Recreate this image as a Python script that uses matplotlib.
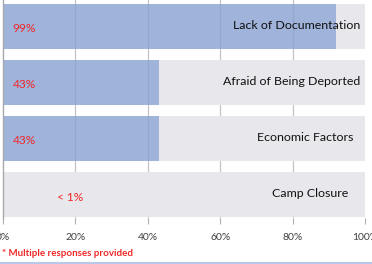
import matplotlib
matplotlib.use("Agg")
import matplotlib.pyplot as plt
from matplotlib.lines import Line2D

categories = ["Lack of Documentation", "Afraid of Being Deported", "Economic Factors", "Camp Closure"]
values = [92, 43, 43, 0.4]
value_labels = ["99%", "43%", "43%", "< 1%"]
xticks = [0, 20, 40, 60, 80, 100]
xtick_labels = ["0%", "20%", "40%", "60%", "80%", "100%"]
footnote = "* Multiple responses provided"

plt.rcParams['font.family'] = ['Lato', 'DejaVu Sans']

W, H = 372, 264
fig = plt.figure(figsize=(W / 100, H / 100), dpi=100)
ax = fig.add_axes([3 / W, 1 - 218 / H, 362 / W, 218 / H])

blue = "#87a0d2"
bg = "#e8e8ec"
red = "#f02828"
pos = list(range(len(categories)))

for x in xticks[1:-1]:
    ax.axvline(x, color="#c4c4c8", lw=0.9, zorder=0)
ax.barh(pos, [100 - v for v in values], left=values, height=0.8, color=bg, zorder=1)
ax.barh(pos, values, height=0.8, color=blue, alpha=0.8, zorder=2)

label_right = [98.8, 98.8, 96.8, 95.4]
for i, (cat, vl) in enumerate(zip(categories, value_labels)):
    ax.text(label_right[i], i - 0.02, cat, ha="right", va="center", fontsize=8.9, color="#111111", zorder=4)
    if vl.startswith("<"):
        ax.text(15, i + 0.06, vl, ha="left", va="center", fontsize=8.6, color=red, zorder=4)
    else:
        ax.text(2.7, i + 0.03, vl, ha="left", va="center", fontsize=8.6, color=red, zorder=4)

ax.set_xlim(0, 100)
ax.set_ylim(3.42, -0.473)
ax.set_xticks(xticks)
ax.set_xticklabels(xtick_labels, fontsize=7.5, color="#404040")
ax.set_yticks([])
ax.tick_params(axis="x", length=4, width=0.8, color="#b0b0b0", pad=7)
for s in ["top", "right"]:
    ax.spines[s].set_visible(False)
ax.spines["bottom"].set_visible(False)
ax.spines["left"].set_color("#a8a8b0")
ax.spines["left"].set_linewidth(1.0)
ax.spines["left"].set_zorder(5)
ax.set_facecolor("white")

fig.text(2 / W, 1 - 254 / H, footnote, fontsize=7, color=red, fontweight="bold", va="center", ha="left")
fig.add_artist(Line2D([0, 1], [1 - 262.5 / H] * 2, color="#b8c8e6", lw=1.5, transform=fig.transFigure))

fig.savefig("out.png", dpi=100)
